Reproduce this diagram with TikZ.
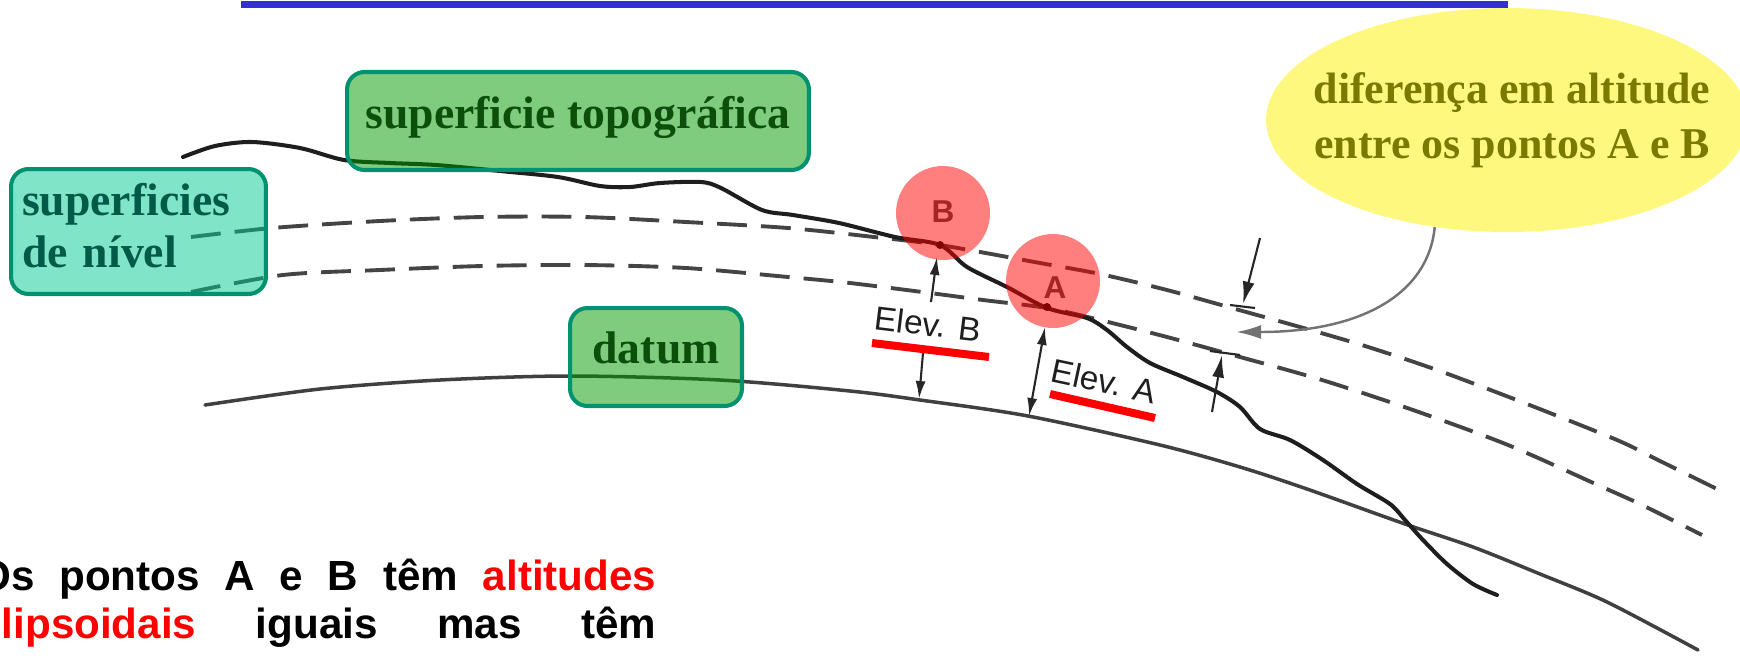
\documentclass[tikz,border=0pt]{standalone}
\usepackage{fontspec}
\setmainfont{Liberation Serif}
\newfontfamily\sansf{Liberation Sans}
\usetikzlibrary{arrows.meta,shapes.geometric}
\definecolor{topoline}{HTML}{1E1E1E}
\definecolor{dashline}{HTML}{444444}
\definecolor{datumline}{HTML}{404040}
\definecolor{greenfill}{HTML}{009900}
\definecolor{aquafill}{HTML}{00C991}
\definecolor{boxborder}{HTML}{00926E}
\definecolor{darkgreen}{HTML}{0B4F0B}
\definecolor{darkteal}{HTML}{005A48}
\definecolor{olivetxt}{HTML}{7A7A00}
\definecolor{slideblue}{HTML}{3333CC}
\tikzset{
  topo/.style={draw=topoline, line width=2.3pt, line cap=round, line join=round},
  levelsurf/.style={draw=dashline, line width=2.2pt, dash pattern=on 17pt off 8pt},
  datumsurf/.style={draw=datumline, line width=2pt, line cap=round},
  dimline/.style={draw=black!85, line width=1.2pt},
  lblbox/.style={draw=boxborder, line width=2.3pt, rounded corners=0.35cm,
    fill=greenfill, fill opacity=0.5, draw opacity=1, text opacity=1,
    text=darkgreen, font=\fontsize{26}{30}\selectfont\bfseries, inner sep=0pt},
  redspot/.style={circle, minimum size=1.88cm, inner sep=0pt, fill=red, fill opacity=0.5},
  elevlbl/.style={font=\sansf\fontsize{19}{20}\selectfont, text=black!88, inner sep=0pt},
  ptletter/.style={font=\sansf\bfseries\fontsize{18}{20}\selectfont, text=black!70, inner sep=0pt},
  redbar/.style={draw=red, line width=0.16cm},
  smallhead/.style={-{Latex[length=0.36cm,width=0.2cm]}},
  bighead/.style={-{Latex[length=0.45cm,width=0.24cm]}}
}
\begin{document}
\begin{tikzpicture}[x=0.02cm,y=-0.02cm]
\useasboundingbox (0,0) rectangle (1740,657);
\clip (0,0) rectangle (1740,657);

% slide title rule
\draw[slideblue, line width=0.14cm] (241,4) -- (1508,4);

% yellow callout ellipse
\node[ellipse, minimum width=9.64cm, minimum height=4.48cm, inner sep=0pt,
      fill=yellow, fill opacity=0.5] (ell) at (1507,120) {};
\node[font=\fontsize{25}{31.3}\selectfont\bfseries, text=olivetxt, align=center, inner sep=0pt]
  (elltxt) at (1512,120) {diferença em altitude\\entre os pontos A e B};

% datum
\draw[datumsurf] plot[smooth, tension=0.5] coordinates {
 (205,405) (320,389) (440,380) (570,376) (720,380) (850,391) (920,400) (1028,416)
 (1160,445) (1240,467) (1307,489) (1405,524) (1473,547) (1540,574) (1607,602) (1698,650)};

% level surfaces
\draw[levelsurf] plot[smooth, tension=0.5] coordinates {
 (191,237) (272,228) (380,221) (482,217) (584,217) (686,222) (788,228) (874,237)
 (940,245) (1040,263) (1100,274) (1167,290) (1239,310) (1300,327) (1365,346)
 (1437,370) (1527,404) (1617,440) (1658,460) (1717,489)};
\draw[levelsurf] plot[smooth, tension=0.5] coordinates {
 (191,292) (283,275) (380,270) (482,266) (584,265) (686,268) (788,277) (850,283)
 (930,293) (983,300) (1047,308) (1100,320) (1167,337) (1240,357) (1322,380)
 (1413,410) (1508,445) (1600,486) (1642,505) (1702,535)};

% topographic surface
\draw[topo] plot[smooth, tension=0.5] coordinates {
 (183,157) (215,146) (252,142) (300,148) (344,160) (390,163) (436,165) (500,171)
 (558,177) (600,186) (630,187) (660,183) (701,182) (721,188) (762,210) (793,215)
 (839,223) (895,237) (940,245) (967,267) (1007,287) (1047,308) (1087,318) (1107,330)
 (1127,347) (1150,363) (1183,377) (1217,392) (1240,407) (1260,429) (1290,440)
 (1323,460) (1357,484) (1390,504) (1405,520) (1423,540) (1447,564) (1473,584) (1497,595)};

% points
\coordinate (B) at (940,245);
\coordinate (A) at (1047,307);
\fill[black] (B) circle (0.08cm);
\fill[black] (A) circle (0.08cm);
\node[ptletter] (Bletter) at (943,212) {B};
\node[ptletter] (Aletter) at (1055,288) {A};

% elevation B
\coordinate (Btip) at (937,257);
\coordinate (Bup) at (931,302);
\coordinate (Bdown) at (923,353);
\coordinate (Bdat) at (919,399);
\draw[dimline, smallhead] (Bup) -- (Btip);
\draw[dimline, smallhead] (Bdown) -- (Bdat);
\node[elevlbl, rotate=-7] (elevB) at (928,324) {Elev. B};

% elevation A
\coordinate (Atip) at (1045,327);
\coordinate (Adat) at (1029,416);
\draw[dimline, {Latex[length=0.36cm,width=0.2cm]}-{Latex[length=0.36cm,width=0.2cm]}] (Atip) -- (Adat);
\node[elevlbl, rotate=-12] (elevA) at (1104,381) {Elev. A};

% difference between level surfaces
\coordinate (upstart) at (1260,238);
\coordinate (uptip) at (1243,304);
\coordinate (uptickl) at (1230,305);
\coordinate (uptickr) at (1255,308);
\draw[dimline, bighead] (upstart) -- (uptip);
\draw[dimline] (uptickl) -- (uptickr);
\coordinate (lostart) at (1212,412);
\coordinate (lotip) at (1222,355);
\coordinate (loTickl) at (1210,351);
\coordinate (loTickr) at (1240,355);
\draw[dimline, bighead] (lostart) -- (lotip);
\draw[dimline] (loTickl) -- (loTickr);
\coordinate (difftip) at (1236,332);
\draw[draw=black!55, line width=1.4pt, -{Latex[length=0.5cm,width=0.28cm]}]
  (ell.236) .. controls (1428,295) and (1360,332) .. (difftip);

% red underlines
\coordinate (barBl) at (872,343);
\coordinate (barBr) at (989,357);
\coordinate (barAl) at (1050,394);
\coordinate (barAr) at (1155,418);
\draw[redbar] (barBl) -- (barBr);
\draw[redbar] (barAl) -- (barAr);

% red highlight circles
\node[redspot] (circB) at (943,213) {};
\node[redspot] (circA) at (1053,281) {};

% label boxes
\node[lblbox, minimum width=9.24cm, minimum height=1.96cm, text height=18pt, text depth=10pt]
  (topobox) at (578,121) {superficie topográfica};
\node[lblbox, fill=aquafill, text=darkteal, minimum width=5.1cm, minimum height=2.5cm,
      align=left, text width=4.66cm]
  (nivbox) at (138.5,231.5) {superficies\\de nível\rule[-7pt]{0pt}{1pt}};
\node[lblbox, minimum width=3.44cm, minimum height=1.96cm, text height=18pt, text depth=11pt]
  (datumbox) at (656,357) {datum};

% bottom text
\node[anchor=base west, inner sep=0pt, font=\sansf\bfseries\fontsize{24}{30}\selectfont]
  (line1) at (-22,590) {\makebox[13.56cm][s]{Os\hfill pontos\hfill A\hfill e\hfill B\hfill têm\hfill \textcolor{red}{altitudes}}};
\node[anchor=base west, inner sep=0pt, font=\sansf\bfseries\fontsize{24}{30}\selectfont]
  (line2) at (-22,638) {\makebox[13.56cm][s]{\textcolor{red}{elipsoidais}\hfill iguais\hfill mas\hfill têm}};
\end{tikzpicture}
\end{document}
